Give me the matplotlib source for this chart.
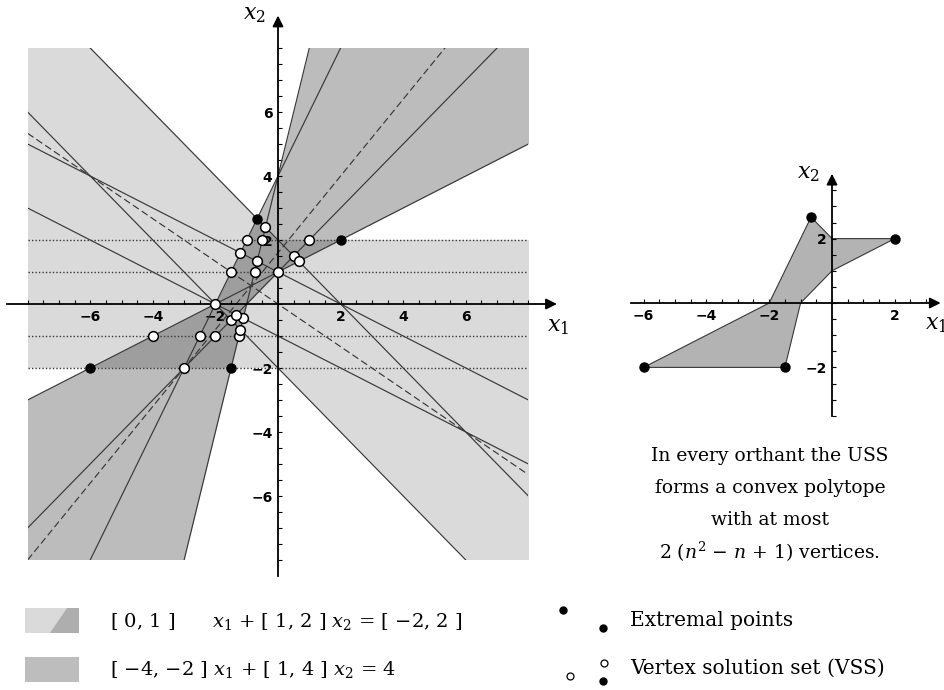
import numpy as np
import matplotlib
matplotlib.use('Agg')
import matplotlib.pyplot as plt
from matplotlib.patches import Rectangle, Polygon

plt.rcParams['font.family'] = 'DejaVu Serif'
plt.rcParams['mathtext.fontset'] = 'dejavuserif'

# interval system  [a11] x1 + [a12] x2 = [b1]
#                  [a21] x1 + [a22] x2 = [b2]
a11 = [0, 1]
a12 = [1, 2]
b1 = [-2, 2]
a21 = [-4, -2]
a22 = [1, 4]
b2 = [4, 4]

# dashed reference lines, a*x1 + b*x2 = c
dash_lines = [(1, 1.5, 0), (-3, 2.5, 4)]

# vertex solution set (solutions of the endpoint systems)
vss_x = [-3, -0.5, 1, -1, -1.25, -2, -2.5, -4, -0.75, 0, -1.5,
         -1.2, -1.5, -2, -0.4, 0.5, 0.667, -1.111, -1.333, -0.667, -1.2]
vss_y = [-2, 2, 2, 2, -1, -1, -1, -1, 1, 1, 1,
         -0.8, -0.5, 0, 2.4, 1.5, 1.333, -0.444, -0.333, 1.333, 1.6]

# extremal points
ext_x = [-6, -1.5, 2, -0.667]
ext_y = [-2, -2, 2, 2.667]

# united solution set outline
uss_x = [-6, -1.5, -1, 0, 2, 0, -0.667, -2]
uss_y = [-2, -2, 0, 1, 2, 2, 2.667, 0]

main_ticks = [-6, -4, -2, 2, 4, 6]
small_xticks = [-6, -4, -2, 2]
small_yticks = [-2, 2]

BOX = 8
W, H = 945, 690
LIGHT = np.array([0.855, 0.855, 0.855])
MID = np.array([0.74, 0.74, 0.74])
DARK = np.array([0.62, 0.62, 0.62])
LINE = '#383838'
TICKFONT = dict(family='DejaVu Sans', weight='bold', size=10)


def px(x, y):
    return x / W, 1 - y / H


def solvable(x1, x2, a, b, c):
    # Oettli-Prager test for one interval equation
    ac, ar = np.mean(a), (a[1] - a[0]) / 2
    bc, br = np.mean(b), (b[1] - b[0]) / 2
    cc, cr = np.mean(c), (c[1] - c[0]) / 2
    return np.abs(ac * x1 + bc * x2 - cc) <= ar * np.abs(x1) + br * np.abs(x2) + cr


def axis_arrows(ax, xr, yr, ticks_x, ticks_y, minor_x, minor_y):
    for s in ['top', 'right']:
        ax.spines[s].set_visible(False)
    ax.spines['left'].set_position(('data', 0))
    ax.spines['bottom'].set_position(('data', 0))
    ax.spines['bottom'].set_bounds(xr[0], xr[1] - 0.3)
    ax.spines['left'].set_bounds(yr[0], yr[1] - 0.3)
    for s in ['left', 'bottom']:
        ax.spines[s].set_linewidth(1.3)
    ax.annotate('', xy=(xr[1], 0), xytext=(xr[1] - 0.5, 0),
                arrowprops=dict(arrowstyle='-|>', color='k', lw=1.3, mutation_scale=16))
    ax.annotate('', xy=(0, yr[1]), xytext=(0, yr[1] - 0.5),
                arrowprops=dict(arrowstyle='-|>', color='k', lw=1.3, mutation_scale=16))
    ax.set_xticks(ticks_x)
    ax.set_yticks(ticks_y)
    ax.set_xticks(minor_x, minor=True)
    ax.set_yticks(minor_y, minor=True)
    ax.set_xticklabels([str(t).replace('-', '\u2212') for t in ticks_x], **TICKFONT)
    ax.set_yticklabels([str(t).replace('-', '\u2212') for t in ticks_y], **TICKFONT)
    ax.tick_params(which='both', direction='in', length=3, width=0.8, pad=4)


def interval(lo, hi):
    f = lambda v: str(v).replace('-', '\u2212')
    return '[ ' + f(lo) + ', ' + f(hi) + ' ]'


fig = plt.figure(figsize=(W / 100, H / 100), dpi=100)

# ---- main picture ----
ax = fig.add_axes([0, 90 / H, 580 / W, 600 / H])
g = np.linspace(-BOX, BOX, 1201)
X1, X2 = np.meshgrid(g, g)
in1 = solvable(X1, X2, a11, a12, b1)
in2 = solvable(X1, X2, a21, a22, b2)
rgb = np.ones(X1.shape + (3,))
rgb[in1] = LIGHT
rgb[in2] = MID
rgb[in1 & in2] = DARK
ax.imshow(rgb, extent=(-BOX, BOX, -BOX, BOX), origin='lower',
          aspect='auto', interpolation='antialiased', zorder=0)

clip = Rectangle((-BOX, -BOX), 2 * BOX, 2 * BOX, transform=ax.transData,
                 fill=False, visible=False)
ax.add_patch(clip)
xs = np.array([-BOX, BOX], dtype=float)

for a in a11:
    for b in a12:
        for c in b1:
            if a == 0:
                ax.plot(xs, [c / b, c / b], ls=(0, (1, 1.5)), color=LINE, lw=1.0, zorder=2)
            else:
                ln, = ax.plot(xs, (c - a * xs) / b, color=LINE, lw=0.85, zorder=2)
                ln.set_clip_path(clip)
for a in a21:
    for b in a22:
        ln, = ax.plot(xs, (b2[0] - a * xs) / b, color=LINE, lw=0.85, zorder=2)
        ln.set_clip_path(clip)
for a, b, c in dash_lines:
    ln, = ax.plot(xs, (c - a * xs) / b, color=LINE, lw=0.85, ls=(0, (6, 3)), zorder=2)
    ln.set_clip_path(clip)

ax.plot(vss_x, vss_y, 'o', mfc='white', mec='black', ms=7, mew=1.1, zorder=6)
ax.plot(ext_x, ext_y, 'o', mfc='black', mec='black', ms=6.5, zorder=6)

axis_arrows(ax, (-8.65, 9.0), (-8.5, 9.1), main_ticks, main_ticks,
            np.arange(-8, 8.01, 0.5), np.arange(-8, 8.01, 0.5))
ax.set_xlim(-278 / 31.3, (580 - 278) / 31.3)
ax.set_ylim((304 - 600) / 32, 304 / 32)
ax.text(8.95, -0.7, r'$x_1$', fontsize=16, ha='center', va='center')
ax.text(-0.75, 9.05, r'$x_2$', fontsize=16, ha='center', va='center')

# ---- united solution set alone ----
bx = fig.add_axes([620 / W, 250 / H, 325 / W, 290 / H])
bx.add_patch(Polygon(np.column_stack([uss_x, uss_y]), closed=True,
                     facecolor=MID * 0.95, edgecolor=LINE, lw=0.8, zorder=1))
bx.plot(ext_x, ext_y, 'o', mfc='black', mec='black', ms=6.5, zorder=6)
axis_arrows(bx, (-6.4, 3.55), (-3.5, 4.1), small_xticks, small_yticks,
            np.arange(-6, 3.01, 0.5), np.arange(-3.5, 3.51, 0.5))
bx.set_xlim((620 - 832) / 31.4, (945 - 832) / 31.4)
bx.set_ylim((303 - 440) / 32.2, (303 - 150) / 32.2)
bx.text(3.3, -0.65, r'$x_1$', fontsize=16, ha='center', va='center')
bx.text(-0.75, 4.05, r'$x_2$', fontsize=16, ha='center', va='center')

# ---- note ----
note = ['In every orthant the USS', 'forms a convex polytope', 'with at most',
        r'2 ($n^2$ $-$ $n$ + 1) vertices.']
for i, s in enumerate(note):
    fig.text(*px(770, 456 + 32 * i), s, fontsize=13.5, ha='center', va='center')

# ---- legend ----
fig.add_artist(Rectangle(px(25, 633), 54 / W, 25 / H, transform=fig.transFigure,
                         facecolor=LIGHT, edgecolor='none'))
fig.add_artist(Polygon([px(50, 633), px(67, 608), px(79, 608), px(79, 633)],
                       closed=True, transform=fig.transFigure,
                       facecolor=MID * 0.92, edgecolor='none'))
fig.add_artist(Rectangle(px(25, 682), 54 / W, 25 / H, transform=fig.transFigure,
                         facecolor=MID, edgecolor='none'))
fig.text(*px(110, 621), interval(*a11) + r'      $x_1$ + ' + interval(*a12)
         + r' $x_2$ = ' + interval(*b1), fontsize=14, va='center')
fig.text(*px(110, 670), interval(*a21) + r' $x_1$ + ' + interval(*a22)
         + r' $x_2$ = ' + str(b2[0]), fontsize=14, va='center')

lg = fig.add_axes([0, 0, 1, 1], facecolor='none')
lg.set_xlim(0, W)
lg.set_ylim(H, 0)
lg.axis('off')
lg.plot([563, 603], [610, 628], 'o', color='black', ms=5)
lg.plot([570, 604], [676, 663], 'o', mfc='white', mec='black', ms=5, mew=0.9)
lg.plot([603], [681], 'o', color='black', ms=5)
lg.text(630, 620, 'Extremal points', fontsize=14.5, va='center')
lg.text(630, 668, 'Vertex solution set (VSS)', fontsize=14.5, va='center')

fig.savefig('out.png', dpi=100)
